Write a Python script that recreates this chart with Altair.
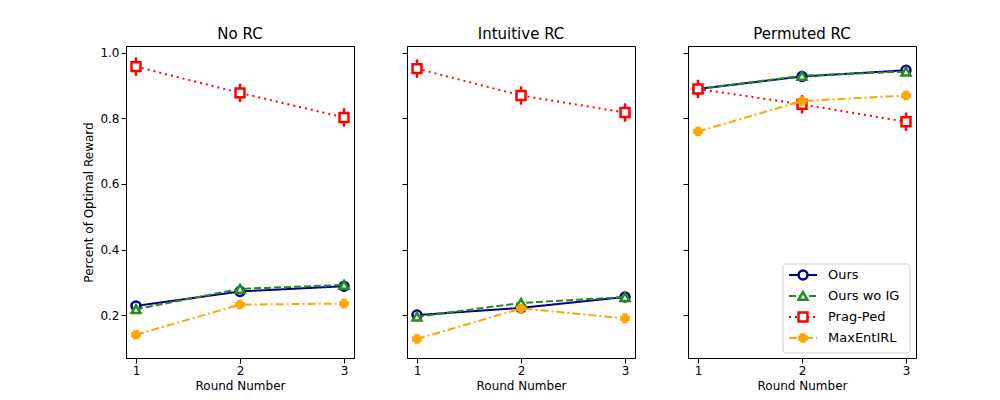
import altair as alt
import pandas as pd

rounds = [1, 2, 3]
panels = ["No RC", "Intuitive RC", "Permuted RC"]
methods = ["Ours", "Ours wo IG", "Prag-Ped", "MaxEntIRL"]

values = {
    "No RC": {
        "Ours": [0.228, 0.272, 0.288],
        "Ours wo IG": [0.218, 0.280, 0.292],
        "Prag-Ped": [0.958, 0.878, 0.803],
        "MaxEntIRL": [0.140, 0.232, 0.235],
    },
    "Intuitive RC": {
        "Ours": [0.200, 0.222, 0.255],
        "Ours wo IG": [0.195, 0.237, 0.255],
        "Prag-Ped": [0.952, 0.870, 0.818],
        "MaxEntIRL": [0.127, 0.220, 0.190],
    },
    "Permuted RC": {
        "Ours": [0.890, 0.928, 0.947],
        "Ours wo IG": [0.890, 0.930, 0.943],
        "Prag-Ped": [0.890, 0.843, 0.790],
        "MaxEntIRL": [0.760, 0.853, 0.870],
    },
}
errors = {"Ours": 0.008, "Ours wo IG": 0.008, "Prag-Ped": 0.028, "MaxEntIRL": 0.008}

colors = ["#00008b", "#228b22", "#ff0000", "#ffa500"]
dashes = [[1, 0], [7, 3], [2, 4], [8, 3, 2, 3]]
shapes = ["circle", "triangle-up", "square", "cross"]
fills = ["white", "white", "white", "#ffa500"]

rows = []
for p in panels:
    for m in methods:
        for r, v in zip(rounds, values[p][m]):
            rows.append({"panel": p, "method": m, "round": r, "value": v,
                         "lo": v - errors[m], "hi": v + errors[m]})
df = pd.DataFrame(rows)

xs = alt.Scale(domain=[0.904, 3.096], nice=False)
ys = alt.Scale(domain=[0.069, 1.021], nice=False)


def panel(name, first, legend):
    d = df[df.panel == name]
    layers = []
    for m, c, dsh, sh, f in zip(methods, colors, dashes, shapes, fills):
        dm = alt.Chart(d[d.method == m])
        yax = alt.Axis(values=[0.2, 0.4, 0.6, 0.8, 1.0], format=".1f", grid=False,
                       labels=first, title="Percent of Optimal Reward" if first else None)
        x = alt.X("round:Q", scale=xs, axis=alt.Axis(values=rounds, format="d", grid=False,
                                                     title="Round Number"))
        layers.append(dm.mark_rule(color=c, strokeWidth=2.5).encode(
            x=x, y=alt.Y("lo:Q", scale=ys, axis=yax), y2="hi:Q"))
        layers.append(dm.mark_line(color=c, strokeWidth=2, strokeDash=dsh).encode(
            x=x, y=alt.Y("value:Q", scale=ys, axis=yax)))
        layers.append(dm.mark_point(color=c, fill=f, filled=False, fillOpacity=1,
                                    strokeWidth=2.5, shape=sh, size=80 if sh != "cross" else 50,
                                    opacity=1).encode(
            x=x, y=alt.Y("value:Q", scale=ys, axis=yax)))
    if legend:
        box = alt.Chart(pd.DataFrame({"a": [0]})).mark_rect(
            fill="white", stroke="#cccccc", cornerRadius=3).encode(
            x=alt.value(95), x2=alt.value(222), y=alt.value(218), y2=alt.value(307))
        layers.append(box)
        for i, (m, c, dsh, sh, f) in enumerate(zip(methods, colors, dashes, shapes, fills)):
            yy = 229 + i * 21
            one = alt.Chart(pd.DataFrame({"t": [m]}))
            layers.append(one.mark_rule(color=c, strokeWidth=2, strokeDash=dsh).encode(
                x=alt.value(101), x2=alt.value(129), y=alt.value(yy)))
            layers.append(one.mark_point(color=c, fill=f, fillOpacity=1, strokeWidth=2.5,
                                         shape=sh, size=80 if sh != "cross" else 50, opacity=1).encode(
                x=alt.value(115), y=alt.value(yy)))
            layers.append(one.mark_text(align="left", baseline="middle", fontSize=13,
                                        font="DejaVu Sans").encode(
                x=alt.value(140), y=alt.value(yy), text="t:N"))
    return alt.layer(*layers).properties(
        width=228, height=312,
        title=alt.TitleParams(name, fontSize=15, fontWeight="normal", font="DejaVu Sans"))


chart = alt.hconcat(
    panel("No RC", True, False),
    panel("Intuitive RC", False, False),
    panel("Permuted RC", False, True),
    spacing=46,
).properties(padding={"left": 74, "top": 18, "right": 10, "bottom": 5}).configure_axis(
    labelFont="DejaVu Sans", titleFont="DejaVu Sans", labelFontSize=12, titleFontSize=12,
    titleFontWeight="normal", domainColor="black", tickColor="black", labelColor="black",
).configure_view(stroke="black")

chart.save("out.html", embed_options={"renderer": "svg", "actions": False})
